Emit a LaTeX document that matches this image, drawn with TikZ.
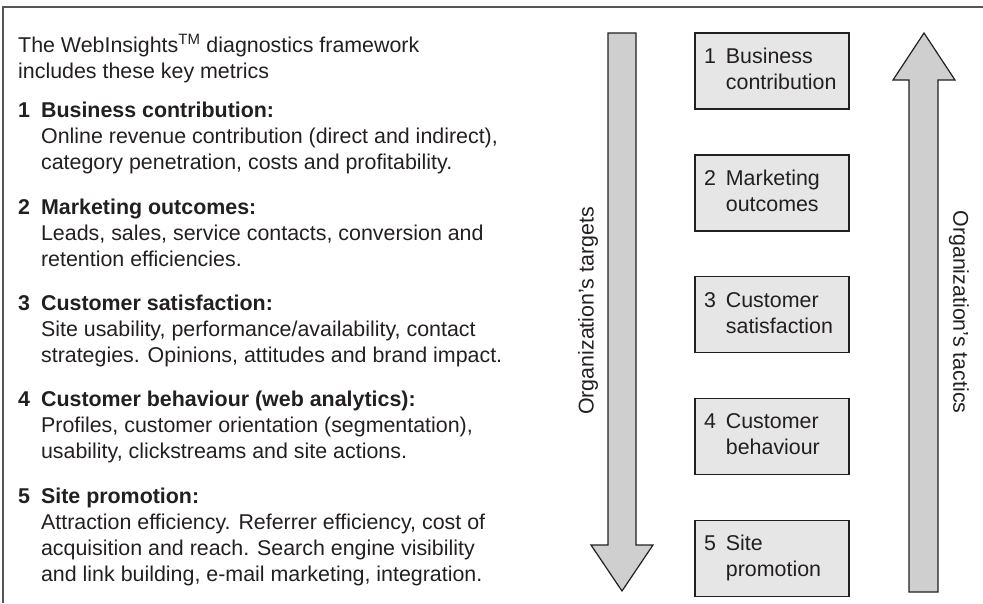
\documentclass[tikz,border=0pt]{standalone}
\usepackage{fontspec}
\setmainfont{Liberation Sans}
\usetikzlibrary{positioning}
\definecolor{inkgray}{HTML}{231F20}
\definecolor{boxgray}{HTML}{E6E6E6}
\definecolor{arrowgray}{HTML}{CFCFCF}
\definecolor{framegray}{HTML}{555555}

\begin{document}
\begin{tikzpicture}[x=1pt,y=-1pt,
  every node/.style={inner sep=0pt,text=inkgray},
  metrictext/.style={anchor=base west,font=\fontsize{21.4}{26}\selectfont},
  metricbox/.style={draw=inkgray,line width=1.2pt,fill=boxgray,text width=136pt,inner xsep=9pt,
    minimum height=76pt,align=left,font=\fontsize{21.4}{26}\selectfont},
  bigarrow/.style={draw=inkgray,line width=1.2pt,fill=arrowgray},
  sidelabel/.style={font=\fontsize{21.4}{26}\selectfont},
  node distance=44.7pt]
\useasboundingbox (0,0) rectangle (983,603);
% frame
\draw[framegray,line width=2pt] (3,603) -- (3,7) -- (983,7);

% left column
\node[metrictext] (intro) at (18,52) {\begin{tabular}[t]{@{}l@{}}The WebInsights\textsuperscript{TM} diagnostics framework\\includes these key metrics\end{tabular}};
\node[metrictext] (m1) at (18,117) {\begin{tabular}[t]{@{}l@{\hspace{11pt}}l@{}}\textbf{1}&\textbf{Business contribution:}\\&Online revenue contribution (direct and indirect),\\&category penetration, costs and profitability.\end{tabular}};
\node[metrictext] (m2) at (18,214) {\begin{tabular}[t]{@{}l@{\hspace{11pt}}l@{}}\textbf{2}&\textbf{Marketing outcomes:}\\&Leads, sales, service contacts, conversion and\\&retention efficiencies.\end{tabular}};
\node[metrictext] (m3) at (18,310) {\begin{tabular}[t]{@{}l@{\hspace{11pt}}l@{}}\textbf{3}&\textbf{Customer satisfaction:}\\&Site usability, performance/availability, contact\\&strategies. Opinions, attitudes and brand impact.\end{tabular}};
\node[metrictext] (m4) at (18,406.5) {\begin{tabular}[t]{@{}l@{\hspace{11pt}}l@{}}\textbf{4}&\textbf{Customer behaviour (web analytics):}\\&Profiles, customer orientation (segmentation),\\&usability, clickstreams and site actions.\end{tabular}};
\node[metrictext] (m5) at (18,503) {\begin{tabular}[t]{@{}l@{\hspace{11pt}}l@{}}\textbf{5}&\textbf{Site promotion:}\\&Attraction efficiency. Referrer efficiency, cost of\\&acquisition and reach. Search engine visibility\\&and link building, e-mail marketing, integration.\end{tabular}};

% arrows
\draw[bigarrow] (608,33) -- (636,33) -- (636,545) -- (653,545) -- (622,591) -- (591,545) -- (608,545) -- cycle;
\draw[bigarrow] (909,592) -- (938,592) -- (938,80) -- (955,80) -- (924,33) -- (893,80) -- (909,80) -- cycle;
\node[sidelabel,rotate=90] (targets) at (588,311) {Organization’s targets};
\node[sidelabel,rotate=-90] (tactics) at (959,312) {Organization’s tactics};

% metric boxes
\node[metricbox] (b1) at (772,71) {\begin{tabular}{@{}l@{\hspace{10pt}}l@{}}1&Business\\&contribution\end{tabular}};
\node[metricbox,below=of b1] (b2) {\begin{tabular}{@{}l@{\hspace{10pt}}l@{}}2&Marketing\\&outcomes\end{tabular}};
\node[metricbox,below=of b2] (b3) {\begin{tabular}{@{}l@{\hspace{10pt}}l@{}}3&Customer\\&satisfaction\end{tabular}};
\node[metricbox,below=of b3] (b4) {\begin{tabular}{@{}l@{\hspace{10pt}}l@{}}4&Customer\\&behaviour\end{tabular}};
\node[metricbox,below=of b4] (b5) {\begin{tabular}{@{}l@{\hspace{10pt}}l@{}}5&Site\\&promotion\end{tabular}};
\end{tikzpicture}
\end{document}
